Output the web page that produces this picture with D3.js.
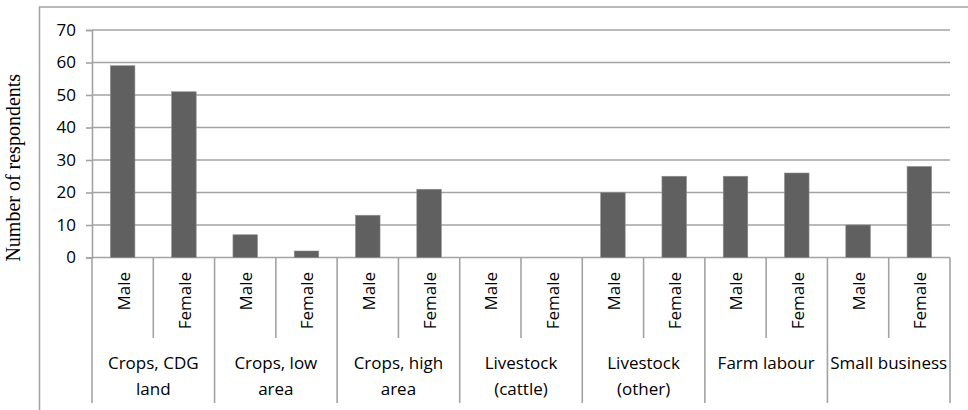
<!DOCTYPE html>
<html>
<head>
<meta charset="utf-8">
<script src="https://cdn.jsdelivr.net/npm/d3@7"></script>
<style>
  html, body { margin: 0; padding: 0; background: #fff; }
  svg { display: block; }
  text { font-family: "Open Sans", Lato, sans-serif; fill: #000; }
</style>
</head>
<body>
<svg id="chart" width="968" height="410"></svg>
<script>
// Livelihood activity categories, with the wrapped lines used for their labels
const categories = ["CDG", "Low", "High", "Cattle", "Other", "Labour", "Business"];
const categoryLabels = [
  ["Crops, CDG", "land"],
  ["Crops, low", "area"],
  ["Crops, high", "area"],
  ["Livestock", "(cattle)"],
  ["Livestock", "(other)"],
  ["Farm labour"],
  ["Small business"]
];
const genders = ["Male", "Female"];
const maleValues   = [59, 7, 13, 0, 20, 25, 10];
const femaleValues = [51, 2, 21, 0, 25, 26, 28];
const yTicks = [0, 10, 20, 30, 40, 50, 60, 70];
const yTitle = "Number of respondents";

const svg = d3.select("#chart");
const gray = "#a3a3a3";
const labelFont = "'Open Sans', Lato, sans-serif";
const labelSize = 17;

const plotLeft = 92, plotRight = 950, plotTop = 30, plotBase = 257.5;

const x0 = d3.scaleBand().domain(categories).range([plotLeft, plotRight]).padding(0);
const x1 = d3.scaleBand().domain(genders).range([0, x0.bandwidth()])
  .paddingInner(0.6).paddingOuter(0.3);
const y = d3.scaleLinear().domain([0, 70]).range([plotBase, plotTop]);

// outer frame (top and left edges)
svg.append("path")
  .attr("d", "M39.5,410 L39.5,7 L968,7")
  .attr("fill", "none").attr("stroke", gray).attr("stroke-width", 1.5);

// horizontal gridlines
svg.append("g").selectAll("line").data(yTicks).join("line")
  .attr("x1", plotLeft).attr("x2", plotRight)
  .attr("y1", d => y(d)).attr("y2", d => y(d))
  .attr("stroke", gray).attr("stroke-width", 1.6);

// y axis with outward ticks
const yAxis = svg.append("g")
  .attr("transform", `translate(${plotLeft},0)`)
  .call(d3.axisLeft(y).tickValues(yTicks).tickSize(6).tickPadding(10));
yAxis.select(".domain").attr("stroke", gray).attr("stroke-width", 1.6);
yAxis.selectAll(".tick line").attr("stroke", gray).attr("stroke-width", 1.6);
yAxis.selectAll(".tick text")
  .attr("font-family", labelFont)
  .attr("font-size", labelSize).attr("fill", "#000");

// y title
svg.append("text")
  .attr("transform", `translate(20,${(plotTop + plotBase) / 2 + 24}) rotate(-90)`)
  .attr("text-anchor", "middle")
  .style("font-family", "'Liberation Serif', 'Times New Roman', serif")
  .attr("font-size", 20)
  .text(yTitle);

// bars
const rows = categories.map((c, i) => ({ cat: c, vals: [maleValues[i], femaleValues[i]] }));
const groups = svg.append("g").selectAll("g").data(rows).join("g")
  .attr("transform", d => `translate(${x0(d.cat)},0)`);
groups.selectAll("rect")
  .data(d => genders.map((g, j) => ({ g, v: d.vals[j] })).filter(e => e.v > 0))
  .join("rect")
  .attr("x", d => x1(d.g))
  .attr("width", x1.bandwidth())
  .attr("y", d => y(d.v))
  .attr("height", d => y(0) - y(d.v))
  .attr("fill", "#606060")
  .attr("stroke", "#8c8c8c").attr("stroke-width", 0.6);

// category separators on the lower axis
const bounds = categories.map(c => x0(c)).concat([plotRight]);
svg.append("g").selectAll("line").data(bounds).join("line")
  .attr("x1", d => d).attr("x2", d => d)
  .attr("y1", plotBase).attr("y2", 403)
  .attr("stroke", gray).attr("stroke-width", 1.6);

// Male / Female separators within each category
svg.append("g").selectAll("line").data(categories).join("line")
  .attr("x1", c => x0(c) + x0.bandwidth() / 2).attr("x2", c => x0(c) + x0.bandwidth() / 2)
  .attr("y1", plotBase).attr("y2", 338)
  .attr("stroke", gray).attr("stroke-width", 1.6);

// rotated gender labels
categories.forEach(c => {
  genders.forEach(g => {
    const cx = x0(c) + x1(g) + x1.bandwidth() / 2;
    svg.append("text")
      .attr("transform", `translate(${cx + 1},272) rotate(-90)`)
      .attr("text-anchor", "end")
      .attr("dy", "0.35em")
      .attr("font-size", labelSize)
      .text(g);
  });
});

// category labels
categories.forEach((c, i) => {
  const t = svg.append("text")
    .attr("x", x0(c) + x0.bandwidth() / 2)
    .attr("y", 369)
    .attr("text-anchor", "middle")
    .attr("font-size", labelSize);
  categoryLabels[i].forEach((line, k) => {
    t.append("tspan")
      .attr("x", x0(c) + x0.bandwidth() / 2)
      .attr("dy", k === 0 ? 0 : 26)
      .text(line);
  });
});
</script>
</body>
</html>
